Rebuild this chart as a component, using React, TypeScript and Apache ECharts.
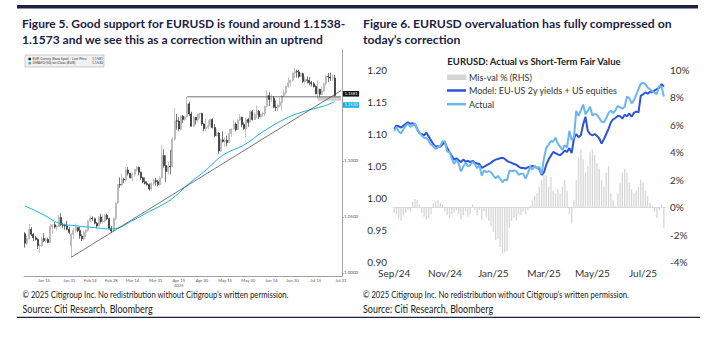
import React, { useEffect, useRef } from "react";
import * as echarts from "echarts";

const FONT = "Lato, 'Noto Sans', sans-serif";
const NAVY = "#1b2243";
const MONTHS = ["Jan", "Feb", "Mar", "Apr", "May", "Jun", "Jul", "Aug", "Sep", "Oct", "Nov", "Dec"];

// ---------------- Figure 5: EURUSD daily candles (Bloomberg style) ----------------
const FIG5_FIRST_DAY = [2025, 0, 2];
const FIG5_LAST_DAY = [2025, 6, 31];
const FIG5_TICK_LABELS = ["Jan 15", "Jan 31", "Feb 14", "Feb 28", "Mar 14", "Mar 31", "Apr 15", "Apr 30", "May 15", "May 30", "Jun 16", "Jun 30", "Jul 15", "Jul 31"];
const FIG5_Y_TICKS = [1.0, 1.05, 1.1, 1.15];
// [open, close, low, high], one per trading day from Jan 2 to Jul 28 2025
const EURUSD_OHLC = [
  [1.0350, 1.0265, 1.0226, 1.0365], [1.0265, 1.0308, 1.0250, 1.0330], [1.0308, 1.0390, 1.0300, 1.0437], [1.0390, 1.0345, 1.0330, 1.0410],
  [1.0345, 1.0315, 1.0285, 1.0355], [1.0315, 1.0300, 1.0290, 1.0330], [1.0300, 1.0245, 1.0214, 1.0310], [1.0245, 1.0246, 1.0178, 1.0260],
  [1.0246, 1.0307, 1.0235, 1.0325], [1.0307, 1.0290, 1.0275, 1.0355], [1.0290, 1.0300, 1.0270, 1.0320], [1.0300, 1.0273, 1.0265, 1.0315],
  [1.0273, 1.0415, 1.0270, 1.0435], [1.0415, 1.0430, 1.0350, 1.0435], [1.0430, 1.0410, 1.0395, 1.0455], [1.0410, 1.0415, 1.0380, 1.0425],
  [1.0415, 1.0495, 1.0410, 1.0520], [1.0495, 1.0430, 1.0420, 1.0533], [1.0430, 1.0425, 1.0400, 1.0450], [1.0425, 1.0420, 1.0385, 1.0440],
  [1.0420, 1.0390, 1.0380, 1.0465], [1.0390, 1.0362, 1.0345, 1.0410],
  [1.0245, 1.0345, 1.0141, 1.0355], [1.0345, 1.0380, 1.0305, 1.0400], [1.0380, 1.0405, 1.0360, 1.0440], [1.0405, 1.0380, 1.0365, 1.0410],
  [1.0380, 1.0330, 1.0305, 1.0415], [1.0330, 1.0305, 1.0285, 1.0345], [1.0305, 1.0360, 1.0290, 1.0375], [1.0360, 1.0380, 1.0320, 1.0390],
  [1.0380, 1.0465, 1.0370, 1.0470], [1.0465, 1.0490, 1.0455, 1.0515], [1.0490, 1.0485, 1.0465, 1.0505], [1.0485, 1.0445, 1.0435, 1.0495],
  [1.0445, 1.0420, 1.0400, 1.0455], [1.0420, 1.0500, 1.0415, 1.0505], [1.0500, 1.0460, 1.0440, 1.0530], [1.0460, 1.0465, 1.0440, 1.0525],
  [1.0465, 1.0515, 1.0450, 1.0525], [1.0515, 1.0485, 1.0470, 1.0530], [1.0485, 1.0400, 1.0390, 1.0495], [1.0400, 1.0375, 1.0360, 1.0420],
  [1.0375, 1.0485, 1.0370, 1.0495], [1.0485, 1.0625, 1.0470, 1.0630], [1.0625, 1.0790, 1.0620, 1.0795], [1.0790, 1.0785, 1.0760, 1.0853],
  [1.0785, 1.0835, 1.0775, 1.0890], [1.0835, 1.0830, 1.0800, 1.0850], [1.0830, 1.0920, 1.0810, 1.0945], [1.0920, 1.0890, 1.0870, 1.0945],
  [1.0890, 1.0850, 1.0845, 1.0895], [1.0850, 1.0880, 1.0820, 1.0895], [1.0880, 1.0925, 1.0860, 1.0930], [1.0925, 1.0945, 1.0905, 1.0955],
  [1.0945, 1.0900, 1.0870, 1.0950], [1.0900, 1.0850, 1.0830, 1.0905], [1.0850, 1.0815, 1.0800, 1.0860], [1.0815, 1.0800, 1.0790, 1.0855],
  [1.0800, 1.0790, 1.0780, 1.0820], [1.0790, 1.0750, 1.0735, 1.0800], [1.0750, 1.0800, 1.0735, 1.0810], [1.0800, 1.0825, 1.0780, 1.0845],
  [1.0825, 1.0815, 1.0780, 1.0850],
  [1.0815, 1.0790, 1.0775, 1.0830], [1.0790, 1.0850, 1.0780, 1.0865], [1.0850, 1.1050, 1.0845, 1.1144], [1.1050, 1.0960, 1.0940, 1.1105],
  [1.0960, 1.0905, 1.0810, 1.1050], [1.0905, 1.0955, 1.0880, 1.0990], [1.0955, 1.0950, 1.0880, 1.1100], [1.0950, 1.1195, 1.0945, 1.1215],
  [1.1195, 1.1360, 1.1180, 1.1474], [1.1360, 1.1355, 1.1280, 1.1420], [1.1355, 1.1285, 1.1265, 1.1390], [1.1285, 1.1400, 1.1270, 1.1405],
  [1.1400, 1.1370, 1.1340, 1.1410], [1.1370, 1.1395, 1.1360, 1.1400], [1.1395, 1.1510, 1.1390, 1.1573], [1.1510, 1.1420, 1.1400, 1.1530],
  [1.1420, 1.1310, 1.1310, 1.1440], [1.1310, 1.1390, 1.1300, 1.1400], [1.1390, 1.1365, 1.1325, 1.1395], [1.1365, 1.1420, 1.1345, 1.1425],
  [1.1420, 1.1425, 1.1380, 1.1430], [1.1425, 1.1330, 1.1315, 1.1430],
  [1.1330, 1.1290, 1.1265, 1.1340], [1.1290, 1.1300, 1.1265, 1.1380], [1.1300, 1.1315, 1.1285, 1.1365], [1.1315, 1.1370, 1.1300, 1.1380],
  [1.1370, 1.1300, 1.1290, 1.1380], [1.1300, 1.1225, 1.1210, 1.1330], [1.1225, 1.1250, 1.1220, 1.1290], [1.1250, 1.1090, 1.1065, 1.1260],
  [1.1090, 1.1190, 1.1080, 1.1200], [1.1190, 1.1175, 1.1165, 1.1265], [1.1175, 1.1185, 1.1130, 1.1210], [1.1185, 1.1165, 1.1130, 1.1225],
  [1.1165, 1.1245, 1.1160, 1.1285], [1.1245, 1.1285, 1.1215, 1.1290], [1.1285, 1.1330, 1.1275, 1.1365], [1.1330, 1.1280, 1.1265, 1.1345],
  [1.1280, 1.1365, 1.1275, 1.1375], [1.1365, 1.1390, 1.1355, 1.1420], [1.1390, 1.1325, 1.1300, 1.1395], [1.1325, 1.1290, 1.1280, 1.1345],
  [1.1290, 1.1370, 1.1210, 1.1385], [1.1370, 1.1345, 1.1305, 1.1385],
  [1.1345, 1.1440, 1.1345, 1.1455], [1.1440, 1.1370, 1.1360, 1.1455], [1.1370, 1.1415, 1.1365, 1.1435], [1.1415, 1.1445, 1.1385, 1.1495],
  [1.1445, 1.1395, 1.1375, 1.1455], [1.1395, 1.1420, 1.1380, 1.1425], [1.1420, 1.1425, 1.1395, 1.1440], [1.1425, 1.1485, 1.1405, 1.1495],
  [1.1485, 1.1585, 1.1480, 1.1631], [1.1585, 1.1550, 1.1490, 1.1615], [1.1550, 1.1560, 1.1525, 1.1595], [1.1560, 1.1480, 1.1470, 1.1580],
  [1.1480, 1.1478, 1.1445, 1.1540], [1.1478, 1.1495, 1.1445, 1.1510], [1.1495, 1.1525, 1.1480, 1.1565], [1.1525, 1.1580, 1.1450, 1.1590],
  [1.1580, 1.1610, 1.1575, 1.1640], [1.1610, 1.1665, 1.1590, 1.1670], [1.1665, 1.1700, 1.1650, 1.1745], [1.1700, 1.1720, 1.1665, 1.1725],
  [1.1720, 1.1785, 1.1705, 1.1790],
  [1.1785, 1.1800, 1.1740, 1.1830], [1.1800, 1.1795, 1.1745, 1.1815], [1.1795, 1.1755, 1.1740, 1.1815], [1.1755, 1.1780, 1.1750, 1.1790],
  [1.1780, 1.1710, 1.1695, 1.1790], [1.1710, 1.1725, 1.1685, 1.1755], [1.1725, 1.1720, 1.1690, 1.1755], [1.1720, 1.1700, 1.1675, 1.1750],
  [1.1700, 1.1690, 1.1665, 1.1715], [1.1690, 1.1665, 1.1655, 1.1705], [1.1665, 1.1600, 1.1595, 1.1675], [1.1600, 1.1640, 1.1556, 1.1720],
  [1.1640, 1.1595, 1.1575, 1.1645], [1.1595, 1.1625, 1.1590, 1.1665], [1.1625, 1.1690, 1.1615, 1.1700], [1.1690, 1.1755, 1.1675, 1.1760],
  [1.1755, 1.1750, 1.1705, 1.1785], [1.1750, 1.1740, 1.1715, 1.1790], [1.1740, 1.1742, 1.1715, 1.1770], [1.1742, 1.1585, 1.1575, 1.1770],
];
// 50-day simple moving average read at selected dates
const SMAVG50 = [
  ["Jan 2", 1.0598], ["Jan 15", 1.0518], ["Jan 24", 1.0445], ["Feb 6", 1.0420], ["Feb 18", 1.0405], ["Feb 27", 1.0393],
  ["Mar 5", 1.0400], ["Mar 13", 1.0458], ["Mar 26", 1.0548], ["Apr 9", 1.0652], ["Apr 22", 1.0801], ["May 2", 1.0920],
  ["May 14", 1.1054], ["May 28", 1.1143], ["Jun 10", 1.1262], ["Jun 24", 1.1372], ["Jul 7", 1.1440], ["Jul 21", 1.1491], ["Jul 28", 1.1530],
];
const TREND_LINE = [["Feb 3", 1.0141], ["Jul 31", 1.1628]];
const RESISTANCE_LINE = [["Apr 21", 1.1573], ["Jul 31", 1.1573]];
const SUPPORT_ZONE = [1.1538, 1.1573];
const SUPPORT_ZONE_FROM = "Jul 16";
const LAST_PRICE = 1.1581;
const LAST_SMAVG = 1.153;

// ---------------- Figure 6: actual vs short-term fair value ----------------
const FIG6_FIRST_DAY = [2024, 8, 2];
const FIG6_LAST_DAY = [2025, 6, 28];
const FIG6_SAMPLE_STEP = 2; // every second business day
const FIG6_LABEL_MONTHS = [8, 10, 0, 2, 4, 6];
const ACTUAL = [
  1.1045, 1.1110, 1.1040, 1.1010, 1.1075, 1.1130, 1.1160, 1.1110, 1.1130, 1.1165,
  1.1065, 1.1025, 1.0975, 1.0940, 1.0935, 1.0895, 1.0830, 1.0815, 1.0765, 1.0795,
  1.0815, 1.0885, 1.0885, 1.0725, 1.0720, 1.0620, 1.0530, 1.0595, 1.0540, 1.0415,
  1.0490, 1.0555, 1.0495, 1.0515, 1.0565, 1.0530, 1.0465, 1.0510, 1.0350, 1.0430,
  1.0405, 1.0420, 1.0405, 1.0355, 1.0308, 1.0345, 1.0300, 1.0245, 1.0290, 1.0273,
  1.0430, 1.0415, 1.0430, 1.0420, 1.0362, 1.0380, 1.0380, 1.0305, 1.0380, 1.0490,
  1.0445, 1.0500, 1.0465, 1.0485, 1.0375, 1.0625, 1.0785, 1.0830, 1.0890, 1.0880,
  1.0945, 1.0850, 1.0800, 1.0750, 1.0825, 1.0790, 1.1050, 1.0905, 1.0950, 1.1360,
  1.1285, 1.1370, 1.1460, 1.1310, 1.1365, 1.1425, 1.1290, 1.1315, 1.1300, 1.1250,
  1.1190, 1.1185, 1.1245, 1.1330, 1.1365, 1.1325, 1.1370, 1.1440, 1.1415, 1.1395,
  1.1425, 1.1585, 1.1560, 1.1480, 1.1525, 1.1610, 1.1700, 1.1785, 1.1800, 1.1780,
  1.1725, 1.1700, 1.1665, 1.1640, 1.1625, 1.1755, 1.1740, 1.1585,
];
const MODEL = [
  1.108, 1.113, 1.112, 1.110, 1.113, 1.116, 1.118, 1.116, 1.117, 1.115,
  1.108, 1.101, 1.100, 1.098, 1.102, 1.096, 1.090, 1.084, 1.080, 1.081,
  1.080, 1.084, 1.087, 1.078, 1.072, 1.066, 1.060, 1.062, 1.059, 1.056,
  1.060, 1.057, 1.058, 1.056, 1.058, 1.055, 1.054, 1.053, 1.047, 1.049,
  1.051, 1.053, 1.055, 1.058, 1.060, 1.061, 1.062, 1.063, 1.061, 1.058,
  1.056, 1.055, 1.053, 1.052, 1.049, 1.047, 1.047, 1.046, 1.048, 1.049,
  1.050, 1.049, 1.047, 1.045, 1.036, 1.040, 1.052, 1.060, 1.066, 1.072,
  1.070, 1.068, 1.067, 1.070, 1.074, 1.072, 1.078, 1.070, 1.093, 1.100,
  1.095, 1.098, 1.115, 1.127, 1.105, 1.100, 1.098, 1.100, 1.097, 1.093,
  1.085, 1.092, 1.100, 1.108, 1.118, 1.123, 1.125, 1.128, 1.128, 1.124,
  1.130, 1.128, 1.132, 1.127, 1.133, 1.135, 1.134, 1.160, 1.162, 1.165,
  1.163, 1.166, 1.165, 1.168, 1.170, 1.172, 1.178, 1.174,
];
const MISVAL = [
  -0.4, -0.5, -0.8, -1.0, -0.6, -0.4, -0.2, -0.3, 0.4, 0.6,
  0.5, 0.2, -0.4, -0.7, -0.9, -0.8, -0.5, 0.3, 0.4, 0.5,
  0.3, 0.2, -0.3, -0.6, -0.8, -0.5, -0.4, -0.2, -0.5, -0.9,
  -0.6, -0.3, -0.7, -0.5, 0.2, -0.2, -0.6, -0.2, -0.9, -0.3,
  -0.8, -1.0, -1.4, -1.8, -2.4, -2.3, -2.9, -3.4, -3.3, -3.2,
  -1.5, -1.0, -0.8, -1.0, -0.5, -0.6, -0.3, -0.5, -0.2, 0.1,
  0.5, 0.8, 1.0, 1.5, 2.0, 2.3, 2.3, 1.5, 2.2, 1.2,
  1.0, 1.3, 1.0, 1.5, 2.0, 1.2, -0.5, -1.2, 0.5, 2.0,
  3.6, 4.2, 3.5, 2.5, 3.0, 4.0, 4.2, 3.8, 3.2, 2.8,
  2.0, 1.5, 2.5, 3.0, 1.0, 0.5, 0.1, 1.0, 1.8, 2.5,
  2.8, 2.5, 1.8, 1.3, 1.0, 1.2, 1.5, 2.0, 1.8, 1.2,
  0.8, 0.3, 0.1, -0.3, -0.8, -0.2, 0.2, -1.5,
];

const FIG5_TITLE = ["Figure 5. Good support for EURUSD is found around 1.1538-", "1.1573 and we see this as a correction within an uptrend"];
const FIG6_TITLE = ["Figure 6. EURUSD overvaluation has fully compressed on", "today\u2019s correction"];
const FIG6_CHART_TITLE = "EURUSD: Actual vs Short-Term Fair Value";
const LEGEND6 = ["Mis-val % (RHS)", "Model: EU-US 2y yields + US equities", "Actual"];
const COPYRIGHT = "\u00a9 2025 Citigroup Inc. No redistribution without Citigroup\u2019s written permission.";
const SOURCE = "Source: Citi Research, Bloomberg";

const C_MODEL = "#2b55d8";
const C_ACTUAL = "#6cb6ef";
const C_BAR = "#d5d5d5";
const C_SMA = "#19b2e6";

function businessDays(from: number[], to: number[]): Date[] {
  const out: Date[] = [];
  const d = new Date(Date.UTC(from[0], from[1], from[2]));
  const end = Date.UTC(to[0], to[1], to[2]);
  while (d.getTime() <= end) {
    const wd = d.getUTCDay();
    if (wd !== 0 && wd !== 6) out.push(new Date(d.getTime()));
    d.setUTCDate(d.getUTCDate() + 1);
  }
  return out;
}

function txt(x: number, y: number, text: string, o: any = {}) {
  const { scaleX, ...style } = o;
  return {
    type: "text", x, y, scaleX: scaleX ?? 1, silent: true,
    style: { text, fontFamily: FONT, fontSize: 10, fill: "#222", align: "left", verticalAlign: "middle", ...style },
  };
}

export default function App() {
  const ref = useRef<HTMLDivElement>(null);
  useEffect(() => {
    if (!ref.current) return;
    const chart = echarts.init(ref.current, null, { renderer: "svg" });

    const fig5Cats = businessDays(FIG5_FIRST_DAY, FIG5_LAST_DAY).map((d) => `${MONTHS[d.getUTCMonth()]} ${d.getUTCDate()}`);
    const fig6Dates = businessDays(FIG6_FIRST_DAY, FIG6_LAST_DAY).filter((_, i) => i % FIG6_SAMPLE_STEP === 1);
    const fig6Cats = fig6Dates.map((d) => d.toISOString().slice(0, 10));
    const fig6LabelIdx = new Set<number>();
    fig6Dates.forEach((d, i) => {
      if (FIG6_LABEL_MONTHS.includes(d.getUTCMonth()) && (i === 0 || fig6Dates[i - 1].getUTCMonth() !== d.getUTCMonth())) fig6LabelIdx.add(i);
    });
    const show5 = (_i: number, v: string) => FIG5_TICK_LABELS.includes(v);
    const axisGrey = "#8a8a8a";

    const option: any = {
      animation: false,
      textStyle: { fontFamily: FONT },
      grid: [
        { left: 24, right: 380, top: 50, bottom: 61 },
        { left: 393, right: 57, top: 70, bottom: 75 },
      ],
      xAxis: [
        {
          type: "category", gridIndex: 0, data: fig5Cats, boundaryGap: true,
          axisLine: { lineStyle: { color: axisGrey, width: 0.8 } },
          axisTick: { interval: show5, alignWithLabel: true, length: 2, lineStyle: { color: axisGrey, width: 0.6 } },
          axisLabel: {
            interval: show5, fontSize: 4.2, color: "#555", margin: 2.5, lineHeight: 4.8,
            formatter: (v: string) => (v === "Apr 15" ? "Apr 15\n2025" : v),
          },
          splitLine: { show: false },
        },
        {
          type: "category", gridIndex: 1, data: fig6Cats, boundaryGap: true,
          axisLine: { show: true, lineStyle: { color: "#dcdcdc", width: 1 } },
          axisTick: { show: false },
          axisLabel: {
            interval: (i: number) => fig6LabelIdx.has(i), fontSize: 10, color: "#333", margin: 6,
            formatter: (v: string) => `${MONTHS[Number(v.slice(5, 7)) - 1]}/${v.slice(2, 4)}`,
          },
          splitLine: { show: false },
        },
      ],
      yAxis: [
        {
          type: "value", gridIndex: 0, position: "right", min: 0.9973, max: 1.1991,
          axisLine: { show: true, lineStyle: { color: axisGrey, width: 0.8 } },
          axisTick: { show: true, customValues: FIG5_Y_TICKS, length: 2, lineStyle: { color: axisGrey, width: 0.6 } },
          axisLabel: { customValues: FIG5_Y_TICKS, formatter: (v: number) => v.toFixed(4), fontSize: 4.5, color: "#555", margin: 2 },
          splitLine: { show: false },
        },
        {
          type: "value", gridIndex: 1, position: "left", min: 0.9, max: 1.2, interval: 0.05,
          axisLine: { show: false }, axisTick: { show: false }, splitLine: { show: false },
          axisLabel: { formatter: (v: number) => v.toFixed(2), fontSize: 10, color: "#333", margin: 6 },
        },
        {
          type: "value", gridIndex: 1, position: "right", min: -4, max: 10, interval: 2,
          axisLine: { show: false }, axisTick: { show: false }, splitLine: { show: false },
          axisLabel: { formatter: (v: number) => `${v}%`, fontSize: 10, color: "#333", margin: 5 },
        },
      ],
      series: [
        {
          type: "candlestick", xAxisIndex: 0, yAxisIndex: 0, data: EURUSD_OHLC, barWidth: 1.5,
          itemStyle: { color: "#dedede", color0: "#1c1c1c", borderColor: "#9b9b9b", borderColor0: "#1c1c1c", borderWidth: 0.6 },
          markArea: {
            silent: true, itemStyle: { color: "#cfcfcf" },
            data: [[{ xAxis: SUPPORT_ZONE_FROM, yAxis: SUPPORT_ZONE[0] }, { xAxis: fig5Cats[fig5Cats.length - 1], yAxis: SUPPORT_ZONE[1] }]],
          },
          markLine: {
            silent: true, symbol: ["none", "none"], lineStyle: { width: 0, color: "transparent" },
            label: { position: "end", distance: 1, formatter: LAST_PRICE.toFixed(4), fontSize: 4.2, color: "#fff", backgroundColor: "#111", padding: [0.8, 1.5] },
            data: [{ yAxis: LAST_PRICE }],
          },
        },
        {
          type: "line", xAxisIndex: 0, yAxisIndex: 0, data: SMAVG50, smooth: 0.4, showSymbol: false,
          lineStyle: { color: C_SMA, width: 1 },
          markLine: {
            silent: true, symbol: ["none", "none"], lineStyle: { width: 0, color: "transparent" },
            label: { position: "end", distance: 1, formatter: LAST_SMAVG.toFixed(4), fontSize: 4.2, color: "#fff", backgroundColor: C_SMA, padding: [0.8, 1.5] },
            data: [{ yAxis: LAST_SMAVG }],
          },
        },
        { type: "line", xAxisIndex: 0, yAxisIndex: 0, data: TREND_LINE, showSymbol: false, lineStyle: { color: "#3a3a3a", width: 0.7 } },
        { type: "line", xAxisIndex: 0, yAxisIndex: 0, data: RESISTANCE_LINE, showSymbol: false, lineStyle: { color: "#3a3a3a", width: 0.7 } },
        { type: "bar", xAxisIndex: 1, yAxisIndex: 2, data: MISVAL, barWidth: "55%", itemStyle: { color: C_BAR } },
        { type: "line", xAxisIndex: 1, yAxisIndex: 1, data: MODEL, showSymbol: false, lineStyle: { color: C_MODEL, width: 2 } },
        { type: "line", xAxisIndex: 1, yAxisIndex: 1, data: ACTUAL, showSymbol: false, lineStyle: { color: C_ACTUAL, width: 2 } },
      ],
      graphic: [
        { type: "rect", silent: true, shape: { x: 17, y: 5, width: 681, height: 3.5 }, style: { fill: NAVY } },
        txt(22, 23, FIG5_TITLE[0], { fontSize: 12, fontWeight: "bold", fill: NAVY }),
        txt(22, 39, FIG5_TITLE[1], { fontSize: 12, fontWeight: "bold", fill: NAVY }),
        txt(363, 23, FIG6_TITLE[0], { fontSize: 12.2, fontWeight: "bold", fill: NAVY }),
        txt(363, 39, FIG6_TITLE[1], { fontSize: 12.2, fontWeight: "bold", fill: NAVY }),
        // Figure 5 legend box
        { type: "rect", silent: true, shape: { x: 25, y: 55, width: 79, height: 12 }, style: { fill: "#f1f1f1", stroke: "#a0a0a0", lineWidth: 0.5 } },
        { type: "rect", silent: true, shape: { x: 28.5, y: 57.8, width: 2.4, height: 2.4 }, style: { fill: "#111" } },
        { type: "rect", silent: true, shape: { x: 28.5, y: 62, width: 2.4, height: 2.4 }, style: { fill: C_SMA } },
        txt(32.5, 59, "EUR Curncy (Euro Spot) - Last Price", { fontSize: 3.5, fill: "#333" }),
        txt(103, 59, LAST_PRICE.toFixed(4), { fontSize: 3.5, fill: "#333", align: "right" }),
        txt(32.5, 63.2, "SMAVG (50) on Close (EUR)", { fontSize: 3.5, fill: "#333" }),
        txt(103, 63.2, LAST_SMAVG.toFixed(4), { fontSize: 3.5, fill: "#333", align: "right" }),
        // Figure 6 title + legend
        txt(534, 61, FIG6_CHART_TITLE, { fontSize: 9.5, fontWeight: "bold", fill: "#222", align: "center" }),
        { type: "rect", silent: true, shape: { x: 447, y: 74.5, width: 19, height: 5.5 }, style: { fill: C_BAR } },
        { type: "line", silent: true, shape: { x1: 447, y1: 90.5, x2: 466, y2: 90.5 }, style: { stroke: C_MODEL, lineWidth: 2.5 } },
        { type: "line", silent: true, shape: { x1: 447, y1: 104.2, x2: 466, y2: 104.2 }, style: { stroke: C_ACTUAL, lineWidth: 2.5 } },
        txt(469, 77.3, LEGEND6[0], { fontSize: 9, fill: "#333" }),
        txt(469, 90.7, LEGEND6[1], { fontSize: 9, fill: "#333" }),
        txt(469, 104.3, LEGEND6[2], { fontSize: 9, fill: "#333" }),
        // footers
        txt(22.5, 294.5, COPYRIGHT, { fontSize: 9.3, fill: "#222", scaleX: 0.83 }),
        txt(22.5, 308.5, SOURCE, { fontSize: 11.5, fill: "#222", scaleX: 0.78 }),
        txt(363, 294.5, COPYRIGHT, { fontSize: 9.3, fill: "#222", scaleX: 0.83 }),
        txt(363, 308.5, SOURCE, { fontSize: 11.5, fill: "#222", scaleX: 0.78 }),
        { type: "rect", silent: true, shape: { x: 17, y: 316.7, width: 683, height: 1.4 }, style: { fill: NAVY } },
      ],
    };
    chart.setOption(option);
    return () => chart.dispose();
  }, []);
  return <div ref={ref} style={{ position: "fixed", left: 0, top: 0, width: 722, height: 337, background: "#fff" }} />;
}
